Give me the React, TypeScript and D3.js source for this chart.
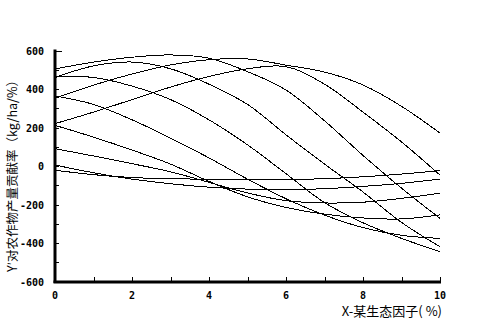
import React from "react";
import * as d3 from "d3";

const xValues = [0, 1, 2, 3, 4, 5, 6, 7, 8, 9, 10];
const curveA = [504, 540, 565, 577, 560, 490, 395, 235, 55, -115, -272];
const curveB = [460, 520, 540, 505, 425, 320, 162, 10, -135, -293, -419];
const curveC = [352, 420, 478, 525, 552, 556, 524, 488, 421, 310, 171];
const curveD = [220, 280, 345, 410, 465, 505, 516, 425, 280, 125, -47];
const curveE = [462, 460, 415, 345, 240, 110, -40, -190, -295, -376, -445];
const curveF = [364, 320, 240, 145, 42, -68, -170, -255, -320, -360, -376];
const curveG = [211, 150, 83, 10, -80, -160, -215, -250, -270, -275, -254];
const curveH = [90, 52, 12, -30, -85, -140, -180, -192, -188, -168, -141];
const curveI = [5, -35, -68, -92, -110, -120, -122, -118, -106, -90, -68];
const curveJ = [-22, -45, -60, -66, -69, -70, -70, -66, -56, -42, -24];
const allSeries = [curveA, curveB, curveC, curveD, curveE, curveF, curveG, curveH, curveI, curveJ];

const yTickLabels = [600, 400, 200, 0, -200, -400, -600];
const yMinorTicks = d3.range(-600, 601, 100);
const xTickLabels = [0, 2, 4, 6, 8, 10];
const xMinorTicks = d3.range(0, 11, 1);

const yTitle = "Y′对农作物产量贡献率（kg/ha/%）";
const xTitle = "X-某生态因子( %)";

export default function App() {
  const x = d3.scaleLinear().domain([0, 10]).range([55, 440]);
  const y = d3.scaleLinear().domain([-600, 600]).range([281.5, 50.5]);
  const line = d3
    .line<number>()
    .x((_, i) => x(xValues[i]))
    .y((d) => y(d))
    .curve(d3.curveCatmullRom.alpha(0.5));
  const mono = "'DejaVu Sans Mono', monospace";
  return (
    <svg width={480} height={320} style={{ position: "absolute", left: 0, top: 0, background: "#fff" }}>
      <rect width={480} height={320} fill="#fff" />
      {allSeries.map((s, i) => (
        <path key={i} d={line(s) || ""} fill="none" stroke="#000" strokeWidth={1} shapeRendering="crispEdges" />
      ))}
      {/* y axis */}
      <line x1={55} x2={55} y1={49.5} y2={283} stroke="#000" strokeWidth={3} />
      {yMinorTicks.map((t) => (
        <line key={t} x1={55} x2={t === 600 ? 62 : 59} y1={Math.round(y(t)) + 0.5} y2={Math.round(y(t)) + 0.5} stroke="#000" strokeWidth={1} />
      ))}
      {yTickLabels.map((t) => (
        <text key={t} x={44} y={y(t) + 4} textAnchor="end" fontFamily={mono} fontWeight="bold" fontSize={10}>
          {t}
        </text>
      ))}
      {/* x axis */}
      <line x1={53.5} x2={441} y1={282} y2={282} stroke="#000" strokeWidth={3} />
      {xMinorTicks.map((t) => (
        <line key={t} x1={Math.round(x(t)) + 0.5} x2={Math.round(x(t)) + 0.5} y1={282} y2={277} stroke="#000" strokeWidth={1} />
      ))}
      {xTickLabels.map((t) => (
        <text key={t} x={x(t)} y={299} textAnchor="middle" fontFamily={mono} fontWeight="bold" fontSize={10}>
          {t}
        </text>
      ))}
      <text x={442} y={316} textAnchor="end" fontFamily="'Noto Sans CJK SC', sans-serif" fontSize={13}>
        {xTitle}
      </text>
      <text
        transform="translate(17,173) rotate(-90)"
        textAnchor="middle"
        fontFamily="'Noto Sans CJK SC', sans-serif"
        fontSize={12.5}
      >
        {yTitle}
      </text>
    </svg>
  );
}
